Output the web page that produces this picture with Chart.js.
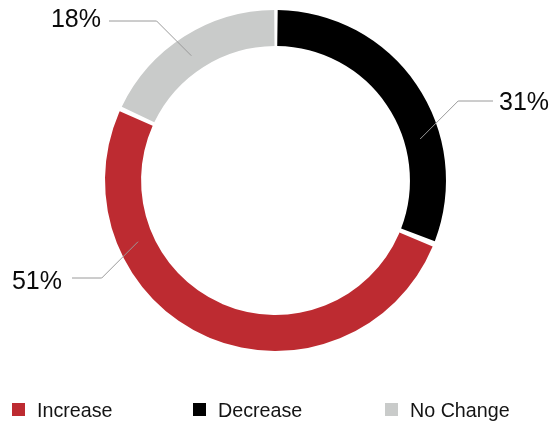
<!DOCTYPE html>
<html>
<head>
<meta charset="utf-8">
<script src="https://cdn.jsdelivr.net/npm/chart.js@4.4.1/dist/chart.umd.min.js"></script>
<style>
  html, body { margin: 0; padding: 0; background: #ffffff; }
  #wrap { position: relative; width: 554px; height: 425px; }
</style>
</head>
<body>
<div id="wrap"><canvas id="c" width="554" height="425"></canvas></div>
<script>
// Slices in drawing order, clockwise from 12 o'clock
const categories = ['Decrease', 'Increase', 'No Change'];
const shares = [31, 51, 18];
// Order of the entries in the key under the ring
const legendOrder = ['Increase', 'Decrease', 'No Change'];

// ---- styling / layout ----
const sliceColors = { 'Decrease': '#000000', 'Increase': '#bd2b31', 'No Change': '#c9cbca' };
const FONT = '"Liberation Sans", Arial, Helvetica, sans-serif';

// Callouts: where the leader touches the ring (deg clockwise from top) and where the text sits
const callouts = {
  'Decrease':  { angle: 74,  side: 'right', textX: 499, baseY: 110, lineY: 101, gap: 6 },
  'Increase':  { angle: 246, side: 'left',  textX: 62,  baseY: 289, lineY: 278, gap: 10 },
  'No Change': { angle: 326, side: 'left',  textX: 101, baseY: 27,  lineY: 21,  gap: 8 }
};
// Key columns
const legendX = [12, 193, 385];

const calloutPlugin = {
  id: 'callouts',
  afterDatasetsDraw(chart) {
    const ctx = chart.ctx;
    const meta = chart.getDatasetMeta(0);
    const values = chart.data.datasets[0].data;
    ctx.save();
    meta.data.forEach((arc, i) => {
      const name = chart.data.labels[i];
      const c = callouts[name];
      const rMid = (arc.innerRadius + arc.outerRadius) / 2;
      const a = c.angle * Math.PI / 180;
      const px = arc.x + rMid * Math.sin(a);
      const py = arc.y - rMid * Math.cos(a);
      const dir = c.side === 'right' ? 1 : -1;
      const ex = px + dir * Math.abs(py - c.lineY);
      const endX = c.side === 'right' ? c.textX - c.gap : c.textX + c.gap;
      ctx.strokeStyle = '#9a9a9a';
      ctx.lineWidth = 1;
      ctx.beginPath();
      ctx.moveTo(px, py);
      ctx.lineTo(ex, c.lineY);
      ctx.lineTo(endX, c.lineY);
      ctx.stroke();
      ctx.fillStyle = '#0a0a0a';
      ctx.font = '25px ' + FONT;
      ctx.textBaseline = 'alphabetic';
      ctx.textAlign = c.side === 'right' ? 'left' : 'right';
      ctx.fillText(values[i] + '%', c.textX, c.baseY);
    });
    ctx.restore();
  }
};

const keyPlugin = {
  id: 'key',
  afterDraw(chart) {
    const ctx = chart.ctx;
    ctx.save();
    ctx.font = '19.7px ' + FONT;
    ctx.textBaseline = 'alphabetic';
    ctx.textAlign = 'left';
    legendOrder.forEach((name, k) => {
      const i = chart.data.labels.indexOf(name);
      const x = legendX[k];
      ctx.fillStyle = chart.data.datasets[0].backgroundColor[i];
      ctx.fillRect(x, 403, 13, 13);
      ctx.fillStyle = '#141414';
      ctx.fillText(name, x + 25, 417);
    });
    ctx.restore();
  }
};

new Chart(document.getElementById('c'), {
  type: 'doughnut',
  data: {
    labels: categories,
    datasets: [{
      data: shares,
      backgroundColor: categories.map(n => sliceColors[n]),
      borderWidth: 0,
      spacing: 4
    }]
  },
  options: {
    responsive: false,
    animation: false,
    cutout: '78.6%',
    rotation: 0,
    layout: { padding: { left: 105, right: 108, top: 10, bottom: 74 } },
    plugins: {
      legend: { display: false },
      tooltip: { enabled: false }
    }
  },
  plugins: [calloutPlugin, keyPlugin]
});
</script>
</body>
</html>
